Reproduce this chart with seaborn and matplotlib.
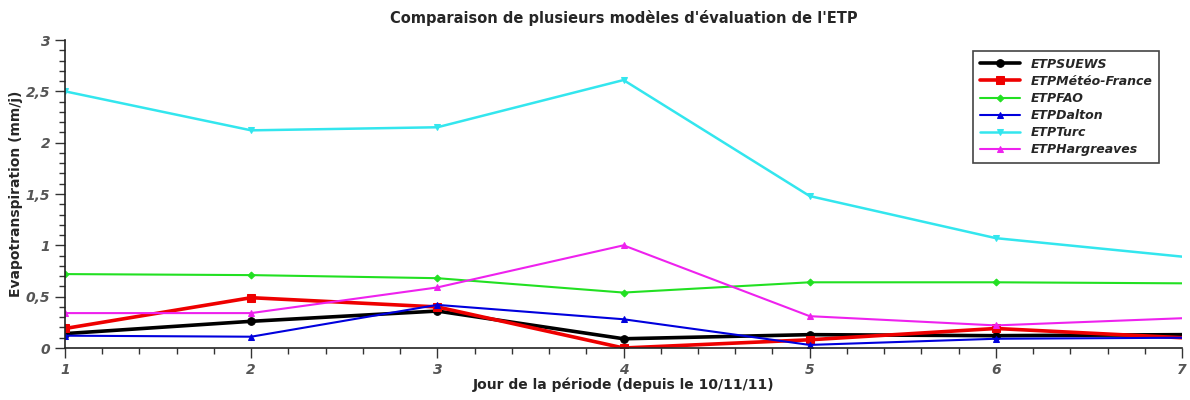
import matplotlib
matplotlib.use("Agg")
from matplotlib import pyplot as plt
from matplotlib.ticker import MultipleLocator, FuncFormatter
import seaborn as sns
import pandas as pd

jours = [1, 2, 3, 4, 5, 6, 7]
etp_suews = [0.14, 0.26, 0.36, 0.09, 0.13, 0.12, 0.13]
etp_meteo_france = [0.19, 0.49, 0.40, 0.0, 0.08, 0.19, 0.10]
etp_fao = [0.72, 0.71, 0.68, 0.54, 0.64, 0.64, 0.63]
etp_dalton = [0.12, 0.11, 0.42, 0.28, 0.03, 0.09, 0.10]
etp_turc = [2.50, 2.12, 2.15, 2.61, 1.48, 1.07, 0.89]
etp_hargreaves = [0.34, 0.34, 0.59, 1.00, 0.31, 0.22, 0.29]

series = [
    ("ETPSUEWS", etp_suews, "#000000", "o", 2.6, 5.5),
    ("ETPMétéo-France", etp_meteo_france, "#ee0000", "s", 2.6, 5.5),
    ("ETPFAO", etp_fao, "#22e022", "D", 1.5, 3.5),
    ("ETPDalton", etp_dalton, "#0000dd", "^", 1.5, 4.5),
    ("ETPTurc", etp_turc, "#33e6ee", "v", 1.8, 5),
    ("ETPHargreaves", etp_hargreaves, "#ee22ee", "^", 1.5, 5),
]

sns.set_style("white")
plt.rcParams['font.family'] = ['DejaVu Sans']

fig = plt.figure(figsize=(11.9, 4), dpi=100)
ax = fig.add_axes([0.0546, 0.13, 0.9387, 0.77])

for name, vals, col, mk, lw, ms in series:
    df = pd.DataFrame({"jour": jours, "etp": vals})
    # pas de marqueur sur le dernier jour (comme l'original)
    sns.lineplot(data=df, x="jour", y="etp", ax=ax, color=col, marker=mk,
                 linewidth=lw, markersize=ms, markeredgecolor=col, label=name,
                 markevery=list(range(len(jours) - 1)))

ax.set_xlim(1, 7)
ax.set_ylim(0, 3)
ax.xaxis.set_major_locator(MultipleLocator(1))
ax.xaxis.set_minor_locator(MultipleLocator(0.2))
ax.yaxis.set_major_locator(MultipleLocator(0.5))
ax.yaxis.set_minor_locator(MultipleLocator(0.1))
ax.yaxis.set_major_formatter(FuncFormatter(lambda v, p: ("%g" % v).replace(".", ",")))
ax.xaxis.set_major_formatter(FuncFormatter(lambda v, p: "%d" % v))

for s in ["top", "right"]:
    ax.spines[s].set_visible(False)
for s in ["left", "bottom"]:
    ax.spines[s].set_color("#222222")
    ax.spines[s].set_linewidth(1.2)

ax.tick_params(which="major", direction="out", length=7, width=1, color="#333333",
               left=True, bottom=True, labelsize=10, labelcolor="#555555")
ax.tick_params(which="minor", direction="out", length=4, width=1, color="#333333",
               left=True, bottom=True)
for lab in ax.get_xticklabels() + ax.get_yticklabels():
    lab.set_fontstyle("italic")
    lab.set_fontweight("bold")

ax.set_xlabel("Jour de la période (depuis le 10/11/11)", fontsize=10, fontweight="bold", labelpad=1)
ax.set_ylabel("Evapotranspiration (mm/j)", fontsize=10, fontweight="bold", labelpad=2)
ax.set_title("Comparaison de plusieurs modèles d'évaluation de l'ETP",
             fontsize=10.5, fontweight="bold", pad=12)

leg = ax.legend(loc="upper right", bbox_to_anchor=(0.985, 0.985), fancybox=False,
                framealpha=1, edgecolor="#444444", prop={"style": "italic", "weight": "bold", "size": 9},
                handlelength=3.2, labelspacing=0.33, borderpad=0.55)
leg.get_frame().set_linewidth(1.2)

fig.savefig("out.png", dpi=100)
